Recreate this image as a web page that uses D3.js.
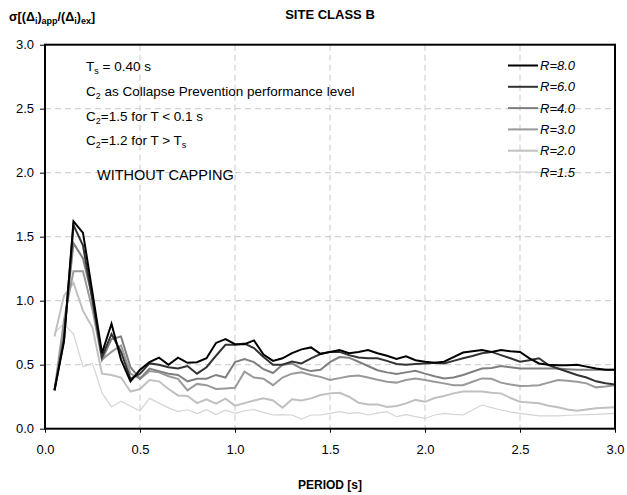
<!DOCTYPE html>
<html><head><meta charset="utf-8">
<script src="https://cdn.jsdelivr.net/npm/d3@7"></script>
<style>body{margin:0;background:#fff;font-family:"Liberation Sans",Arial,sans-serif}</style>
</head><body>
<svg id="c" width="627" height="495"></svg>
<script>
const periods = d3.range(1, 61).map(i => +(i * 0.05).toFixed(2));
const seriesNames = ["R=8.0", "R=6.0", "R=4.0", "R=3.0", "R=2.0", "R=1.5"];
const r80 = [0.30,0.68,1.62,1.53,1.06,0.59,0.82,0.54,0.37,0.46,0.52,0.555,0.50,0.555,0.515,0.52,0.55,0.67,0.70,0.66,0.66,0.69,0.58,0.53,0.55,0.59,0.62,0.635,0.585,0.60,0.615,0.59,0.60,0.615,0.59,0.57,0.545,0.565,0.535,0.523,0.515,0.523,0.56,0.595,0.605,0.615,0.60,0.615,0.605,0.60,0.55,0.51,0.50,0.495,0.495,0.50,0.485,0.47,0.46,0.46];
const r60 = [0.30,0.70,1.59,1.43,1.00,0.56,0.74,0.60,0.39,0.43,0.51,0.50,0.48,0.47,0.49,0.43,0.48,0.57,0.655,0.655,0.665,0.63,0.56,0.50,0.50,0.525,0.51,0.55,0.583,0.60,0.60,0.575,0.557,0.55,0.55,0.53,0.505,0.50,0.505,0.51,0.515,0.51,0.53,0.55,0.568,0.59,0.60,0.575,0.55,0.523,0.535,0.55,0.497,0.47,0.445,0.42,0.40,0.37,0.355,0.345];
const r40 = [0.30,0.75,1.45,1.33,1.02,0.54,0.70,0.72,0.48,0.39,0.47,0.45,0.43,0.42,0.37,0.39,0.39,0.42,0.40,0.52,0.545,0.52,0.465,0.435,0.50,0.51,0.47,0.45,0.46,0.52,0.56,0.555,0.523,0.49,0.457,0.44,0.427,0.44,0.452,0.43,0.41,0.393,0.40,0.42,0.445,0.47,0.475,0.49,0.48,0.47,0.47,0.47,0.47,0.47,0.465,0.46,0.46,0.46,0.46,0.46];
const r30 = [0.30,0.85,1.23,1.23,0.93,0.54,0.60,0.65,0.43,0.39,0.45,0.44,0.41,0.39,0.30,0.35,0.34,0.31,0.315,0.32,0.445,0.40,0.39,0.34,0.40,0.43,0.44,0.42,0.405,0.38,0.395,0.41,0.415,0.40,0.383,0.367,0.36,0.38,0.393,0.38,0.367,0.354,0.34,0.34,0.367,0.393,0.39,0.36,0.345,0.333,0.335,0.34,0.36,0.38,0.375,0.367,0.354,0.323,0.33,0.34];
const r20 = [0.72,1.04,1.14,0.92,0.79,0.43,0.42,0.40,0.29,0.31,0.38,0.37,0.31,0.26,0.255,0.20,0.23,0.195,0.235,0.18,0.20,0.22,0.237,0.22,0.164,0.23,0.22,0.237,0.263,0.276,0.28,0.25,0.203,0.19,0.19,0.17,0.177,0.198,0.225,0.21,0.24,0.255,0.276,0.29,0.29,0.29,0.28,0.276,0.24,0.21,0.205,0.198,0.18,0.167,0.15,0.14,0.15,0.159,0.163,0.167];
const r15 = [0.75,0.82,0.74,0.485,0.51,0.28,0.17,0.215,0.175,0.14,0.237,0.20,0.163,0.133,0.148,0.118,0.148,0.11,0.145,0.12,0.14,0.15,0.127,0.107,0.11,0.107,0.075,0.107,0.107,0.12,0.133,0.12,0.125,0.107,0.122,0.133,0.094,0.11,0.094,0.08,0.107,0.12,0.112,0.107,0.146,0.185,0.165,0.146,0.13,0.12,0.11,0.10,0.10,0.10,0.105,0.107,0.11,0.112,0.116,0.12];
const seriesValues = [r80, r60, r40, r30, r20, r15];
const xTicks = [0, 0.5, 1.0, 1.5, 2.0, 2.5, 3.0];
const yTicks = [0, 0.5, 1.0, 1.5, 2.0, 2.5, 3.0];

const colors = ["#000000", "#333333", "#808080", "#9a9a9a", "#c0c0c0", "#d4d4d4"];
const widths = [2, 2, 2, 2, 2, 1.2];

const svg = d3.select("#c");
const L = 45, R = 615, T = 44.7, B = 428.7;
const x = d3.scaleLinear().domain([0, 3]).range([L, R]);
const y = d3.scaleLinear().domain([0, 3]).range([B, T]);

// grid
const g = svg.append("g");
g.selectAll(".vg").data(xTicks.filter(t => t > 0 && t < 3)).enter().append("line")
  .attr("x1", d => x(d)).attr("x2", d => x(d)).attr("y1", T).attr("y2", B)
  .attr("stroke", "#c8c8c8").attr("stroke-dasharray", "6,4").attr("stroke-width", 1);
g.selectAll(".hg").data(yTicks.filter(t => t > 0 && t < 3)).enter().append("line")
  .attr("y1", d => y(d)).attr("y2", d => y(d)).attr("x1", L).attr("x2", R)
  .attr("stroke", "#c8c8c8").attr("stroke-dasharray", "6,4").attr("stroke-width", 1);

// lines (draw lightest first)
const line = d3.line().x((d, i) => x(periods[i])).y(d => y(d));
for (let k = seriesValues.length - 1; k >= 0; k--) {
  svg.append("path").datum(seriesValues[k]).attr("d", line)
    .attr("fill", "none").attr("stroke", colors[k]).attr("stroke-width", widths[k])
    .attr("stroke-linejoin", "miter");
}

// frame
svg.append("rect").attr("x", L).attr("y", T).attr("width", R - L).attr("height", B - T)
  .attr("fill", "none").attr("stroke", "#000").attr("stroke-width", 2);

// axes
const xa = svg.append("g").attr("transform", `translate(0,${B})`)
  .call(d3.axisBottom(x).tickValues(xTicks).tickFormat(d3.format(".1f")).tickSize(4).tickPadding(12));
const ya = svg.append("g").attr("transform", `translate(${L},0)`)
  .call(d3.axisLeft(y).tickValues(yTicks).tickFormat(d3.format(".1f")).tickSize(5).tickPadding(6));
[xa, ya].forEach(a => {
  a.select(".domain").remove();
  a.selectAll("line").attr("stroke", "#000").attr("stroke-width", 1);
  a.selectAll("text").attr("font-size", 13).attr("fill", "#000").attr("font-family", "Liberation Sans, Arial, sans-serif");
});

// title
svg.append("text").attr("x", 330).attr("y", 19).attr("text-anchor", "middle")
  .attr("font-weight", "bold").attr("font-size", 13).text("SITE CLASS B");
svg.append("text").attr("x", 330).attr("y", 489).attr("text-anchor", "middle")
  .attr("font-weight", "bold").attr("font-size", 12).text("PERIOD [s]");

// y label with subscripts
const yl = svg.append("text").attr("x", 9).attr("y", 21).attr("font-weight", "bold").attr("font-size", 12.5);
const parts = [["σ[(Δ", 0], ["i", 1], [")", 0], ["app", 1], ["/(Δ", 0], ["i", 1], [")", 0], ["ex", 1], ["]", 0]];
parts.forEach(p => {
  yl.append("tspan").text(p[0]).attr("font-size", p[1] ? 9 : 12.5)
    .attr("baseline-shift", p[1] ? "-3" : null);
});

// annotations
const ann = svg.append("g").attr("font-size", 13.5).attr("fill", "#000");
const noteY = [71, 95.5, 120.5, 145];
function subText(el, main, sub, rest) {
  el.append("tspan").text(main);
  el.append("tspan").text(sub).attr("font-size", 9).attr("baseline-shift", "-3");
  if (rest) el.append("tspan").text(rest);
}
let t0 = ann.append("text").attr("x", 86).attr("y", noteY[0]);
subText(t0, "T", "s", " = 0.40 s");
let t1 = ann.append("text").attr("x", 86).attr("y", noteY[1]);
subText(t1, "C", "2", " as Collapse Prevention performance level");
let t2 = ann.append("text").attr("x", 86).attr("y", noteY[2]);
subText(t2, "C", "2", "=1.5 for T < 0.1 s");
let t3 = ann.append("text").attr("x", 86).attr("y", noteY[3]);
subText(t3, "C", "2", "=1.2 for T > T");
t3.append("tspan").text("s").attr("font-size", 9).attr("baseline-shift", "-3");
ann.append("text").attr("x", 97).attr("y", 180).attr("font-size", 14.5).text("WITHOUT CAPPING");

// legend
const lg = svg.append("g");
seriesNames.forEach((n, i) => {
  const yy = 65.5 + i * 21.3;
  lg.append("line").attr("x1", 508).attr("x2", 538).attr("y1", yy).attr("y2", yy)
    .attr("stroke", colors[i]).attr("stroke-width", widths[i]);
  lg.append("text").attr("x", 540).attr("y", yy + 4.5).attr("font-size", 13)
    .attr("font-style", "italic").text(n);
});
</script>
</body></html>
